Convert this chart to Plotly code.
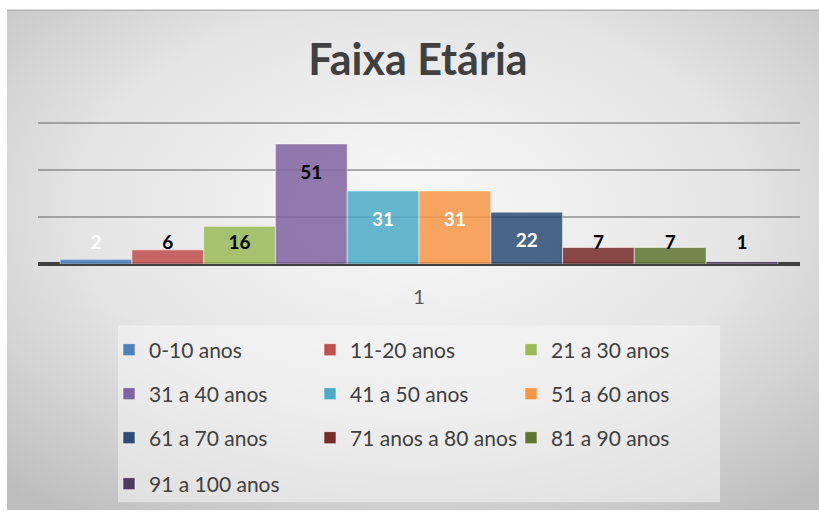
import plotly.graph_objects as go

# ---- data ----
categories = ["1"]
series_names = ["0-10 anos", "11-20 anos", "21 a 30 anos", "31 a 40 anos", "41 a 50 anos",
                "51 a 60 anos", "61 a 70 anos", "71 anos a 80 anos", "81 a 90 anos", "91 a 100 anos"]
series_values = [2, 6, 16, 51, 31, 31, 22, 7, 7, 1]
series_colors = ["#4F81BD", "#C0504D", "#9BBB59", "#8064A2", "#4BACC6",
                 "#F79646", "#2C4D75", "#772C2A", "#5F7530", "#4D3B62"]
label_colors = ["white", "black", "black", "black", "white",
                "white", "white", "black", "black", "black"]
title_text = "Faixa Etária"

# ---- layout geometry ----
W, H = 819, 513
ML, MR, MT, MB = 38, 19, 118, 248
PW, PH = W - ML - MR, H - MT - MB
YMAX = 62
BARGAP = 0.058


def px_x(px):
    return (px - ML) / PW


def px_y(py):
    return (H - MB - py) / PH


FONT = "Lato"
fig = go.Figure()

legend_ids = ["legend", "legend2", "legend3", "legend4"]
for i, (name, val, col) in enumerate(zip(series_names, series_values, series_colors)):
    fig.add_trace(go.Bar(
        x=categories, y=[val], name=name, offsetgroup=str(i),
        marker=dict(color=col, opacity=0.85, line=dict(color="rgba(255,255,255,0.55)", width=1)),
        legend=legend_ids[i // 3], hoverinfo="skip",
    ))

# data labels (inside end, clamped near baseline) placed via grouped scatter
label_offset = 12.8
label_floor = 8.6
for i, (val, lc) in enumerate(zip(series_values, label_colors)):
    fig.add_trace(go.Scatter(
        x=categories, y=[max(val - label_offset, label_floor)], mode="text",
        text=[str(val)], textfont=dict(family=FONT, size=19, color=lc, weight="bold"),
        showlegend=False, hoverinfo="skip", offsetgroup=str(i), cliponaxis=False,
    ))

bg_svg = (
    "data:image/svg+xml;utf8,"
    "<svg xmlns='http://www.w3.org/2000/svg' width='812' height='504' viewBox='0 0 812 504' preserveAspectRatio='none'>"
    "<defs><radialGradient id='g' cx='50%25' cy='40%25' r='75%25'>"
    "<stop offset='0%25' stop-color='%23f9f9f9'/>"
    "<stop offset='55%25' stop-color='%23e4e4e4'/>"
    "<stop offset='100%25' stop-color='%23bdbdbd'/>"
    "</radialGradient></defs>"
    "<rect width='812' height='504' fill='url(%23g)'/></svg>"
)

legend_common = dict(
    orientation="h", xanchor="left", yanchor="middle",
    bgcolor="rgba(0,0,0,0)", entrywidth=156, entrywidthmode="pixels",
    font=dict(family=FONT, size=21, color="#404040"), itemclick=False, itemdoubleclick=False,
)
row_y = [350, 394, 438, 484]
legend_x = px_x(109)

fig.update_layout(
    width=W, height=H,
    margin=dict(l=ML, r=MR, t=MT, b=MB, pad=0),
    paper_bgcolor="white", plot_bgcolor="rgba(0,0,0,0)",
    barmode="group", bargap=BARGAP, bargroupgap=0,
    scattermode="group", scattergap=BARGAP,
    title=dict(text=title_text, x=px_x(418), xref="paper", xanchor="center",
               y=1 - 60 / H, yanchor="middle",
               font=dict(family=FONT, size=43, color="#404040", weight="bold")),
    xaxis=dict(type="category", range=[-0.5, 0.5], showgrid=False, zeroline=False,
               showline=False, ticks="outside", ticklen=15, tickcolor="rgba(0,0,0,0)",
               tickfont=dict(family=FONT, size=20, color="#595959"), fixedrange=True),
    yaxis=dict(range=[0, YMAX], tickvals=[20, 40, 60], showticklabels=False, showgrid=True,
               gridcolor="rgba(110,110,110,0.55)", gridwidth=1.5, zeroline=True,
               zerolinecolor="#404040", zerolinewidth=3.5, fixedrange=True),
    images=[dict(source=bg_svg, xref="paper", yref="paper",
                 x=px_x(7), y=px_y(9), sizex=(W - 7) / PW, sizey=(H - 9) / PH,
                 xanchor="left", yanchor="top", sizing="stretch", layer="below")],
    shapes=[
        dict(type="line", xref="paper", yref="paper", x0=px_x(7), x1=px_x(W), y0=px_y(9.5), y1=px_y(9.5),
             line=dict(color="#b4b4b4", width=1.5), layer="below"),
        dict(type="rect", xref="paper", yref="paper", x0=px_x(118), x1=px_x(720), y0=px_y(327), y1=px_y(505),
             fillcolor="rgba(245,245,245,0.55)", line=dict(width=0), layer="below"),
    ],
    showlegend=True,
    legend=dict(**legend_common, x=legend_x, y=px_y(row_y[0])),
    legend2=dict(**legend_common, x=legend_x, y=px_y(row_y[1])),
    legend3=dict(**legend_common, x=legend_x, y=px_y(row_y[2])),
    legend4=dict(**legend_common, x=legend_x, y=px_y(row_y[3])),
)

fig.write_html("out.html", config={"displayModeBar": False},
               post_script="document.body.style.margin='0';document.body.style.padding='0';")
